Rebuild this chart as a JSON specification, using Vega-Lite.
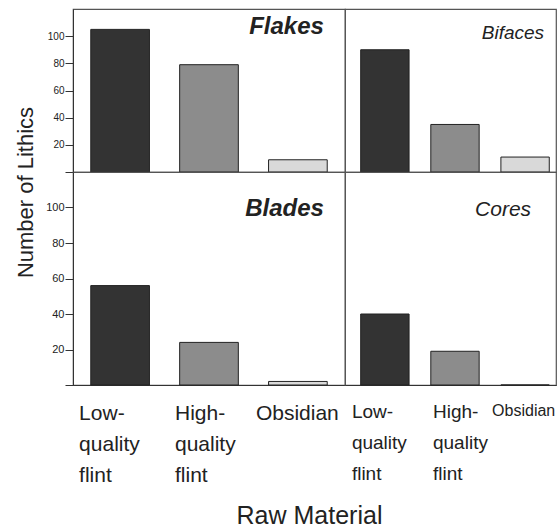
{
  "$schema": "https://vega.github.io/schema/vega-lite/v6.json",
  "padding": {"left": 13, "top": 8, "right": 1, "bottom": 4},
  "background": "white",
  "config": {
    "font": "Liberation Sans",
    "view": {"stroke": "#555", "strokeWidth": 1.2},
    "axis": {"domainColor": "#333", "tickColor": "#333", "labelColor": "#222", "titleColor": "#222", "grid": false},
    "text": {"color": "#222", "align": "right", "baseline": "alphabetic", "fontStyle": "italic"}
  },
  "data": {
    "values": [
      {"type": "Flakes", "material": "Low-quality flint", "count": 105},
      {"type": "Flakes", "material": "High-quality flint", "count": 79},
      {"type": "Flakes", "material": "Obsidian", "count": 9},
      {"type": "Bifaces", "material": "Low-quality flint", "count": 90},
      {"type": "Bifaces", "material": "High-quality flint", "count": 35},
      {"type": "Bifaces", "material": "Obsidian", "count": 11},
      {"type": "Blades", "material": "Low-quality flint", "count": 56},
      {"type": "Blades", "material": "High-quality flint", "count": 24},
      {"type": "Blades", "material": "Obsidian", "count": 2},
      {"type": "Cores", "material": "Low-quality flint", "count": 40},
      {"type": "Cores", "material": "High-quality flint", "count": 19},
      {"type": "Cores", "material": "Obsidian", "count": 0}
    ]
  },
  "columns": 2,
  "bounds": "flush",
  "align": "each",
  "spacing": 0,
  "concat": [
    {
      "width": 272,
      "height": 163,
      "encoding": {
        "x": {"field": "material", "type": "nominal", "sort": null,
              "scale": {"paddingInner": 0.34, "paddingOuter": 0.2}, "axis": null},
        "y": {"field": "count", "type": "quantitative",
              "scale": {"domain": [0, 120], "nice": false},
              "axis": {"values": [0, 20, 40, 60, 80, 100], "labelExpr": "datum.value === 0 ? '' : datum.label",
                       "labelFontSize": 10, "labelPadding": 1, "tickSize": 8,
                       "title": "Number of Lithics", "titleFontSize": 22, "titleFontWeight": "normal",
                       "titleX": -48, "titleY": 183, "titleAngle": -90, "titleAlign": "center", "titleBaseline": "middle"}}
      },
      "layer": [
        {
          "transform": [{"filter": "datum.type === 'Flakes'"}],
          "mark": {"type": "bar", "stroke": "#222", "strokeWidth": 1},
          "encoding": {
            "color": {"field": "material", "type": "nominal", "sort": null, "legend": null,
                      "scale": {"domain": ["Low-quality flint", "High-quality flint", "Obsidian"], "range": ["#333333", "#8c8c8c", "#d9d9d9"]}}
          }
        },
        {
          "data": {"values": [{"panel": "Flakes", "material": "Obsidian", "count": 101.6}]},
          "mark": {"type": "text", "fontSize": 24, "fontWeight": "bold", "dx": 26},
          "encoding": {"text": {"field": "panel"}}
        }
      ]
    },
    {
      "width": 211,
      "height": 163,
      "encoding": {
        "x": {"field": "material", "type": "nominal", "sort": null,
              "scale": {"paddingInner": 0.31, "paddingOuter": 0.16, "align": 0.7}, "axis": null},
        "y": {"field": "count", "type": "quantitative",
              "scale": {"domain": [0, 120], "nice": false}, "axis": null}
      },
      "layer": [
        {
          "transform": [{"filter": "datum.type === 'Bifaces'"}],
          "mark": {"type": "bar", "stroke": "#222", "strokeWidth": 1},
          "encoding": {
            "color": {"field": "material", "type": "nominal", "sort": null, "legend": null,
                      "scale": {"domain": ["Low-quality flint", "High-quality flint", "Obsidian"], "range": ["#333333", "#8c8c8c", "#d9d9d9"]}}
          }
        },
        {
          "data": {"values": [{"panel": "Bifaces", "material": "Obsidian", "count": 97.9}]},
          "mark": {"type": "text", "fontSize": 19, "fontWeight": "normal", "dx": 19},
          "encoding": {"text": {"field": "panel"}}
        }
      ]
    },
    {
      "width": 272,
      "height": 213,
      "encoding": {
        "x": {"field": "material", "type": "nominal", "sort": null,
              "scale": {"paddingInner": 0.34, "paddingOuter": 0.2},
              "axis": {"labelAngle": 0, "ticks": false, "labelFontSize": 21, "labelLineHeight": 31,
                       "labelAlign": "left", "labelBaseline": "top", "labelPadding": 17,
                       "labelOffset": {"condition": [{"test": "datum.label === 'Obsidian'", "value": -42}, {"test": "datum.label === 'High-quality flint'", "value": -34}], "value": -41},
                       "labelExpr": "split(replace(datum.label, '-', '- '), ' ')",
                       "title": "Raw Material", "titleFontSize": 25, "titleFontWeight": "normal",
                       "titleX": 236, "titleY": 138, "titleAlign": "center", "titleBaseline": "alphabetic"}},
        "y": {"field": "count", "type": "quantitative",
              "scale": {"domain": [0, 120], "nice": false},
              "axis": {"values": [0, 20, 40, 60, 80, 100], "labelExpr": "datum.value === 0 ? '' : datum.label",
                       "labelFontSize": 11, "labelPadding": 1, "tickSize": 8, "title": null}}
      },
      "layer": [
        {
          "transform": [{"filter": "datum.type === 'Blades'"}],
          "mark": {"type": "bar", "stroke": "#222", "strokeWidth": 1},
          "encoding": {
            "color": {"field": "material", "type": "nominal", "sort": null, "legend": null,
                      "scale": {"domain": ["Low-quality flint", "High-quality flint", "Obsidian"], "range": ["#333333", "#8c8c8c", "#d9d9d9"]}}
          }
        },
        {
          "data": {"values": [{"panel": "Blades", "material": "Obsidian", "count": 95.2}]},
          "mark": {"type": "text", "fontSize": 24, "fontWeight": "bold", "dx": 26},
          "encoding": {"text": {"field": "panel"}}
        }
      ]
    },
    {
      "width": 211,
      "height": 213,
      "encoding": {
        "x": {"field": "material", "type": "nominal", "sort": null,
              "scale": {"paddingInner": 0.31, "paddingOuter": 0.16, "align": 0.7},
              "axis": {"labelAngle": 0, "ticks": false, "labelLineHeight": 31,
                       "labelFontSize": {"condition": {"test": "datum.label === 'Obsidian'", "value": 16}, "value": 19},
                       "labelAlign": "left", "labelBaseline": "top", "labelPadding": 17,
                       "labelOffset": {"condition": [{"test": "datum.label === 'Obsidian'", "value": -33}, {"test": "datum.label === 'Low-quality flint'", "value": -33}], "value": -22},
                       "labelExpr": "split(replace(datum.label, '-', '- '), ' ')",
                       "title": null}},
        "y": {"field": "count", "type": "quantitative",
              "scale": {"domain": [0, 120], "nice": false}, "axis": null}
      },
      "layer": [
        {
          "transform": [{"filter": "datum.type === 'Cores'"}],
          "mark": {"type": "bar", "stroke": "#222", "strokeWidth": 1},
          "encoding": {
            "color": {"field": "material", "type": "nominal", "sort": null, "legend": null,
                      "scale": {"domain": ["Low-quality flint", "High-quality flint", "Obsidian"], "range": ["#333333", "#8c8c8c", "#d9d9d9"]}}
          }
        },
        {
          "data": {"values": [{"panel": "Cores", "material": "Obsidian", "count": 95.2}]},
          "mark": {"type": "text", "fontSize": 21, "fontWeight": "normal", "dx": 6},
          "encoding": {"text": {"field": "panel"}}
        }
      ]
    }
  ]
}
